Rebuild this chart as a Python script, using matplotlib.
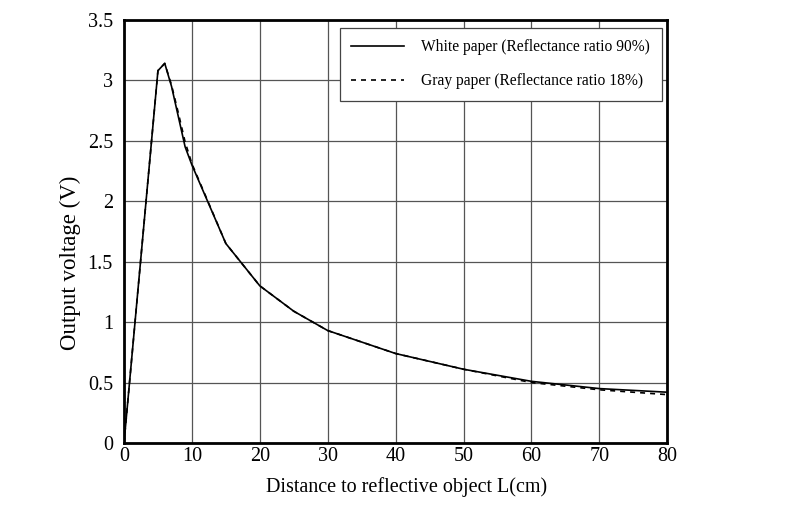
import matplotlib
matplotlib.use("Agg")
import matplotlib.pyplot as plt

distance_white = [0, 5, 6, 7, 8, 9, 10, 15, 20, 25, 30, 40, 50, 60, 70, 80]
voltage_white = [0, 3.08, 3.14, 2.95, 2.70, 2.45, 2.30, 1.65, 1.30, 1.09, 0.93, 0.74, 0.61, 0.51, 0.45, 0.42]
distance_gray = [0, 5, 6, 7, 8, 9, 10, 15, 20, 25, 30, 40, 50, 60, 70, 80]
voltage_gray = [0, 3.08, 3.14, 2.96, 2.73, 2.49, 2.31, 1.65, 1.30, 1.09, 0.93, 0.74, 0.61, 0.50, 0.44, 0.40]
x_ticks = [0, 10, 20, 30, 40, 50, 60, 70, 80]
y_ticks = [0, 0.5, 1, 1.5, 2, 2.5, 3, 3.5]
y_tick_labels = ["0", "0.5", "1", "1.5", "2", "2.5", "3", "3.5"]

plt.rcParams['font.family'] = ['Liberation Serif', 'DejaVu Serif']

fig = plt.figure(figsize=(8, 5.23), dpi=100)
ax = fig.add_axes([0.155, 0.153, 0.679, 0.809])

ax.plot(distance_white, voltage_white, color='black', lw=1.2, ls='-',
        label='White paper (Reflectance ratio 90%)', zorder=3)
ax.plot(distance_gray, voltage_gray, color='black', lw=1.2, ls=(0, (3, 3)),
        label='Gray paper (Reflectance ratio 18%)', zorder=3)

ax.set_xlim(0, 80)
ax.set_ylim(0, 3.5)
ax.set_xticks(x_ticks)
ax.set_yticks(y_ticks)
ax.set_yticklabels(y_tick_labels)
ax.grid(True, color='#555555', lw=0.9)
ax.tick_params(length=0, labelsize=14.5)
ax.tick_params(axis='y', pad=8)
ax.tick_params(axis='x', pad=3)
for s in ax.spines.values():
    s.set_linewidth(2.0)
    s.set_color('black')

ax.set_xlabel('Distance to reflective object L(cm)', fontsize=14.5)
ax.xaxis.set_label_coords(0.521, -0.08, transform=ax.transAxes)
ax.xaxis.label.set_va('top')
ax.set_ylabel('Output voltage (V)', fontsize=16.5)
ax.yaxis.set_label_coords(-0.098, 0.4255, transform=ax.transAxes)
ax.yaxis.label.set_va('center')

leg = ax.legend(loc='upper right', fontsize=11.2, frameon=True, fancybox=False,
                edgecolor='#444444', framealpha=1, handlelength=3.4,
                labelspacing=1.15, borderpad=0.75, handletextpad=1.1,
                bbox_to_anchor=(1.004, 1.0))
leg.get_frame().set_linewidth(0.9)

fig.savefig('out.png', dpi=100)
